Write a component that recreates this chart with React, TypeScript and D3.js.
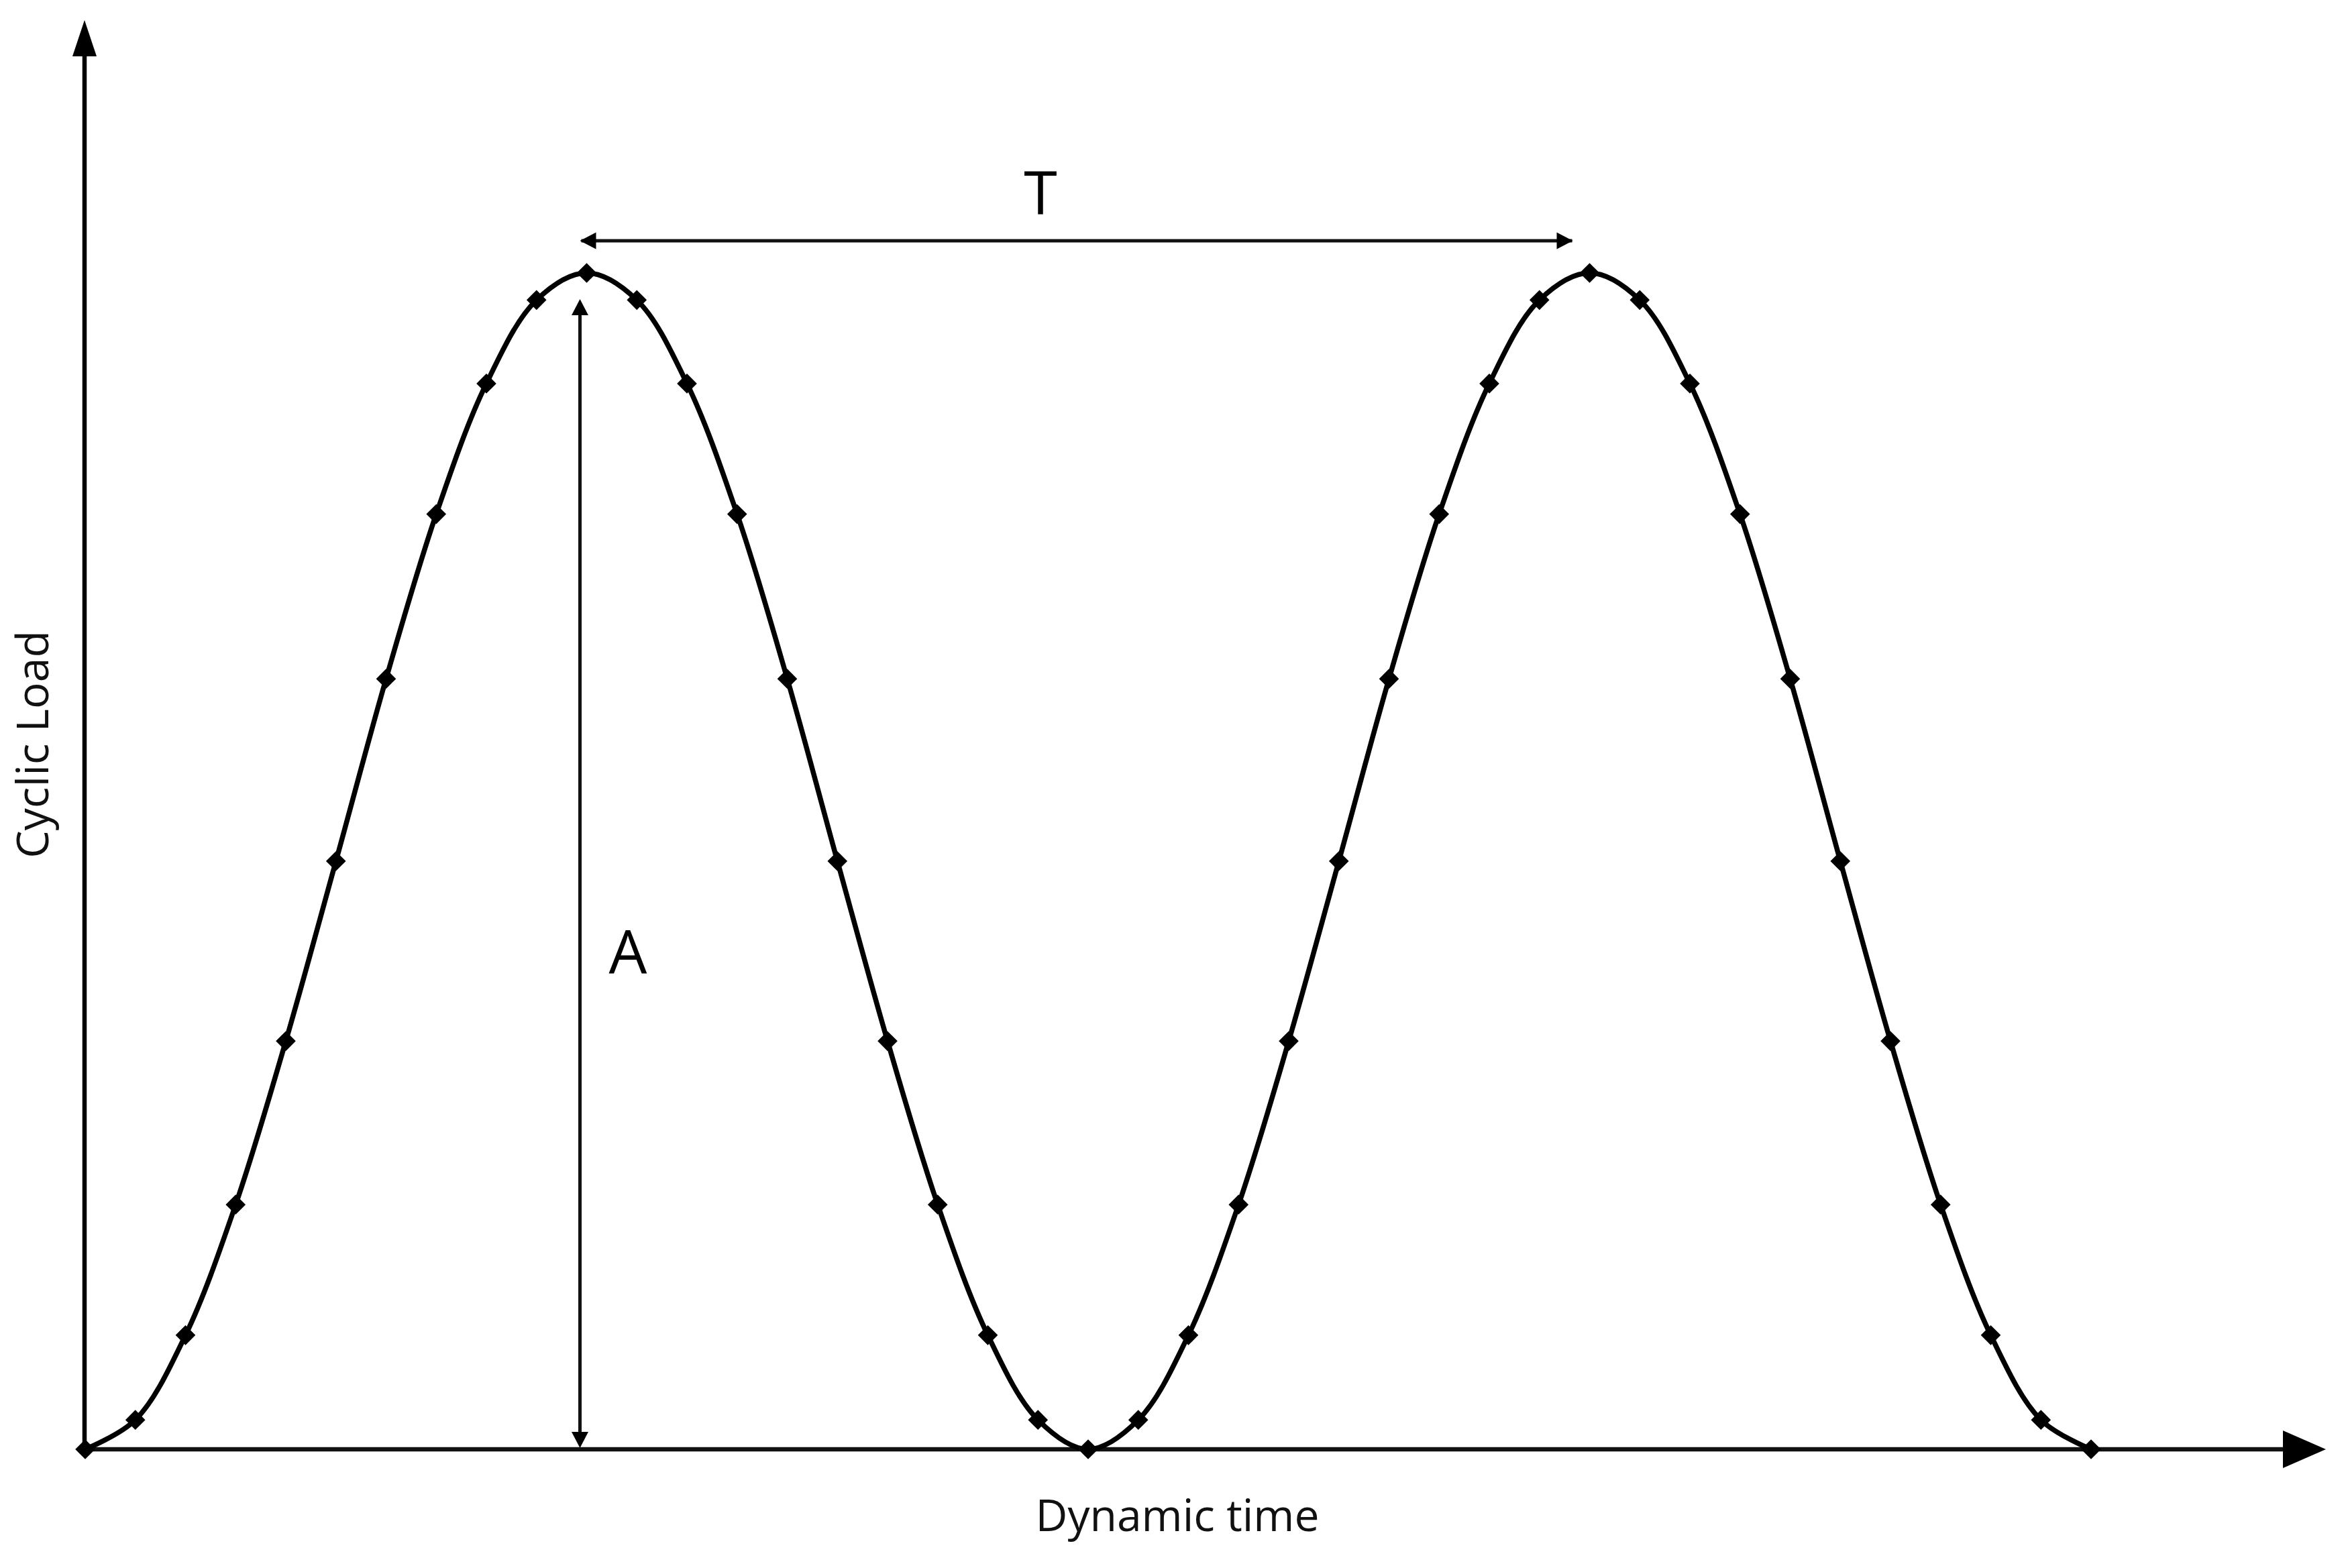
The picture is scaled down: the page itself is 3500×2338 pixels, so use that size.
import React from "react";
import * as d3 from "d3";

// time step index (uniform samples)
const timeSteps = [
  0, 1, 2, 3, 4, 5, 6, 7, 8, 9, 10,
  11, 12, 13, 14, 15, 16, 17, 18, 19, 20,
  21, 22, 23, 24, 25, 26, 27, 28, 29, 30,
  31, 32, 33, 34, 35, 36, 37, 38, 39, 40,
];
// normalized cyclic load
const loadValues = [
  0, 0.025, 0.097, 0.208, 0.347, 0.5, 0.655, 0.795, 0.906, 0.977, 1,
  0.977, 0.906, 0.795, 0.655, 0.5, 0.347, 0.208, 0.097, 0.025, 0,
  0.025, 0.097, 0.208, 0.347, 0.5, 0.655, 0.795, 0.906, 0.977, 1,
  0.977, 0.906, 0.795, 0.655, 0.5, 0.347, 0.208, 0.097, 0.025, 0,
];
const xLabel = "Dynamic time";
const yLabel = "Cyclic Load";
const periodLabel = "T";
const ampLabel = "A";
const peakIdx = [10, 30];

const W = 3500;
const H = 2338;
const FONT = "'Open Sans', 'Noto Sans', sans-serif";

export default function App() {
  const x = d3.scaleLinear().domain([0, 40]).range([127, 3117]);
  const y = d3.scaleLinear().domain([0, 1]).range([2161, 407]);
  const pts: [number, number][] = timeSteps.map((t, i) => [t, loadValues[i]]);
  const line = d3
    .line<[number, number]>()
    .x((d) => x(d[0]))
    .y((d) => y(d[1]))
    .curve(d3.curveCatmullRom.alpha(0.5));
  const diamond = d3.symbol().type(d3.symbolSquare).size(440)();

  const ox = 126;
  const oy = y(0);
  const p1 = x(peakIdx[0]);
  const p2 = x(peakIdx[1]);
  const tY = 359;
  const aX = p1 - 10;
  const aTop = 446;

  return (
    <svg width={W} height={H} style={{ position: "absolute", left: 0, top: 0, background: "#fff" }}>
      <rect x={0} y={0} width={W} height={H} fill="#fff" />
      {/* axes */}
      <line x1={ox} y1={oy} x2={ox} y2={84} stroke="#000" strokeWidth={6.5} />
      <polygon points={`${ox},30 ${ox - 18},84 ${ox + 18},84`} fill="#000" />
      <line x1={ox} y1={oy} x2={3404} y2={oy} stroke="#111" strokeWidth={6.5} />
      <polygon points={`3467,${oy} 3403,${oy - 28} 3403,${oy + 28}`} fill="#000" />

      {/* T arrow */}
      <line x1={p1 - 8} y1={tY} x2={p2 - 26} y2={tY} stroke="#111" strokeWidth={5} />
      <polygon points={`${p1 - 10},${tY} ${p1 + 14},${tY - 12.5} ${p1 + 14},${tY + 12.5}`} fill="#000" />
      <polygon points={`${p2 - 25},${tY} ${p2 - 49},${tY - 12.5} ${p2 - 49},${tY + 12.5}`} fill="#000" />
      <text x={1551} y={320} fontFamily={FONT} fontSize={90} textAnchor="middle" fill="#000">
        {periodLabel}
      </text>

      {/* A arrow */}
      <line x1={aX} y1={aTop + 20} x2={aX} y2={oy - 20} stroke="#111" strokeWidth={5} />
      <polygon points={`${aX},${aTop} ${aX - 12.5},${aTop + 24} ${aX + 12.5},${aTop + 24}`} fill="#000" />
      <polygon points={`${aX},${oy - 2} ${aX - 12.5},${oy - 26} ${aX + 12.5},${oy - 26}`} fill="#000" />
      <text x={936} y={1451} fontFamily={FONT} fontSize={90} textAnchor="middle" fill="#000">
        {ampLabel}
      </text>

      {/* curve */}
      <path d={line(pts) || ""} fill="none" stroke="#000" strokeWidth={7.5} />
      {pts.map((d, i) => (
        <path
          key={i}
          d={diamond || ""}
          transform={`translate(${x(d[0])},${y(d[1])}) rotate(45)`}
          fill="#000"
        />
      ))}

      {/* labels */}
      <text x={1755} y={2283} fontFamily={FONT} fontSize={66} textAnchor="middle" fill="#111">
        {xLabel}
      </text>
      <text
        transform={`translate(72,1110) rotate(-90)`}
        fontFamily={FONT}
        fontSize={66}
        textAnchor="middle"
        fill="#111"
      >
        {yLabel}
      </text>
    </svg>
  );
}
